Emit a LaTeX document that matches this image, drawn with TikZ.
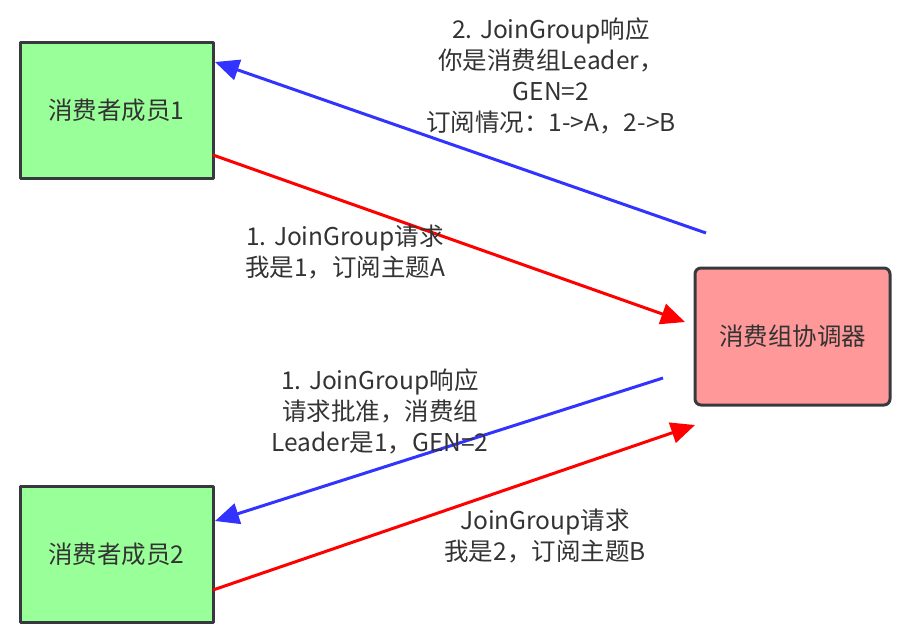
\documentclass[tikz,border=0pt]{standalone}
\usepackage{fontspec}
\setmainfont{Noto Sans CJK SC}
\usetikzlibrary{arrows.meta}
\definecolor{membergreen}{HTML}{99FF99}
\definecolor{coordred}{HTML}{FF9999}
\definecolor{boxline}{HTML}{36393D}
\definecolor{reqred}{HTML}{FF0000}
\definecolor{respblue}{HTML}{3333FF}
\definecolor{labelgray}{HTML}{333333}
\tikzset{
	member/.style={draw=boxline,line width=3pt,fill=membergreen,minimum width=193pt,minimum height=136pt,inner sep=0pt,text=labelgray},
	coordinator/.style={member,fill=coordred,rounded corners=6pt,minimum width=195pt,minimum height=137pt},
	req/.style={draw=reqred,line width=3pt,->,color=reqred},
	resp/.style={draw=respblue,line width=3pt,->,color=respblue},
	msg/.style={align=center,text=labelgray,inner sep=0pt}
}
\begin{document}
\begin{tikzpicture}[x=1pt,y=-1pt,line join=round,>={Triangle[length=24pt,width=21pt]},font=\fontsize{24.5}{31}\selectfont]
	\useasboundingbox (0,0) rectangle (900,640);
	
	\node[member] (m1) at (116.5,110) {消费者成员1};
	\node[member] (m2) at (116.5,554) {消费者成员2};
	\node[coordinator] (gc) at (792.5,336.5) {消费组协调器};
	
	\path
	(706,233) coordinate (B1s)
	(215,62) coordinate (B1e)
	(213,155) coordinate (R1s)
	(685,322) coordinate (R1e)
	(663,378) coordinate (B2s)
	(215,521) coordinate (B2e)
	(213,590) coordinate (R2s)
	(695,425) coordinate (R2e);
	
	\draw[resp] (B1s) -- (B1e);
	\draw[req] (R1s) -- (R1e);
	\draw[resp] (B2s) -- (B2e);
	\draw[req] (R2s) -- (R2e);
	
	\node[msg] (t1) at (551,76) {2. JoinGroup响应\\你是消费组Leader，\\GEN=2\\订阅情况：1->A，2->B};
	\node[msg] (t2) at (345,252) {1. JoinGroup请求\\我是1，订阅主题A};
	\node[msg] (t3) at (380,411) {1. JoinGroup响应\\请求批准，消费组\\Leader是1，GEN=2};
	\node[msg] (t4) at (545,536) {JoinGroup请求\\我是2，订阅主题B};
	
\end{tikzpicture}
\end{document}
